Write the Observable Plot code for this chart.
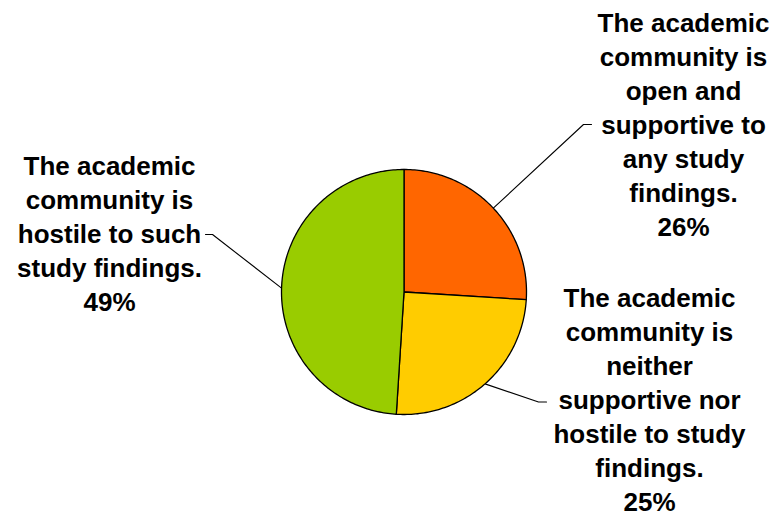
<!DOCTYPE html>
<html>
<head>
<meta charset="utf-8">
<script src="https://cdn.jsdelivr.net/npm/d3@7"></script>
<script src="https://cdn.jsdelivr.net/npm/@observablehq/plot@0.6"></script>
<style>
  html, body { margin: 0; padding: 0; background: #ffffff; }
  #chart svg { display: block; }
</style>
</head>
<body>
<div id="chart"></div>
<script>
// ---- data ----
const categories = [
  "The academic\ncommunity is\nopen and\nsupportive to\nany study\nfindings.",
  "The academic\ncommunity is\nneither\nsupportive nor\nhostile to study\nfindings.",
  "The academic\ncommunity is\nhostile to such\nstudy findings."
];
const values = [26, 25, 49];
const colors = ["#FF6600", "#FFCC00", "#99CC00"];

// ---- layout (pixels) ----
const W = 770, H = 513;
const CX = 403.5, CY = 291.5, R = 122.5;
const X = px => (px - CX) / R;
const Y = py => (CY - py) / R;
const FS = 26, LH = 34;
// label anchor (center x, top y), elbow of leader, end of leader
const labelPos = [
  {x: 683, y: 7.5, ex: 583, ey: 124, hx: 591},
  {x: 649, y: 282.5, ex: 538, ey: 401.5, hx: 546},
  {x: 109, y: 150.5, ex: 212, ey: 234, hx: 205}
];

// ---- derived ----
const total = d3.sum(values);
let acc = 0;
const slices = values.map((v, i) => {
  const a0 = acc / total * 2 * Math.PI;
  acc += v;
  const a1 = acc / total * 2 * Math.PI;
  return {i, v, a0, a1, mid: (a0 + a1) / 2, color: colors[i], label: categories[i] + "\n" + v + "%"};
});

const polyPts = [];
for (const s of slices) {
  polyPts.push({x: 0, y: 0, s: s.i, color: s.color});
  const n = Math.max(2, Math.ceil((s.a1 - s.a0) / (Math.PI / 180)));
  for (let k = 0; k <= n; k++) {
    const a = s.a0 + (s.a1 - s.a0) * k / n;
    polyPts.push({x: Math.sin(a), y: Math.cos(a), s: s.i, color: s.color});
  }
  polyPts.push({x: 0, y: 0, s: s.i, color: s.color});
}

const leaderPts = [];
for (const s of slices) {
  const L = labelPos[s.i];
  leaderPts.push({x: Math.sin(s.mid), y: Math.cos(s.mid), s: s.i});
  leaderPts.push({x: X(L.ex), y: Y(L.ey), s: s.i});
  leaderPts.push({x: X(L.hx), y: Y(L.ey), s: s.i});
}

const labels = slices.map(s => ({x: X(labelPos[s.i].x), y: Y(labelPos[s.i].y), text: s.label}));

const chart = Plot.plot({
  width: W,
  height: H,
  margin: 0,
  style: {background: "#ffffff", fontFamily: "'Liberation Sans', Arial, Helvetica, sans-serif"},
  x: {domain: [X(0), X(W)], axis: null},
  y: {domain: [Y(H), Y(0)], axis: null},
  color: {type: "identity"},
  marks: [
    Plot.line(leaderPts, {x: "x", y: "y", z: "s", stroke: "#000000", strokeWidth: 1.1}),
    Plot.line(polyPts, {x: "x", y: "y", z: "s", fill: "color", stroke: "#000000", strokeWidth: 1.3, strokeLinejoin: "round"}),
    Plot.text(labels, {x: "x", y: "y", text: "text", fontSize: FS, fontWeight: "bold", fill: "#000000",
      textAnchor: "middle", lineAnchor: "top", lineHeight: LH / FS})
  ]
});
document.getElementById("chart").appendChild(chart);
</script>
</body>
</html>
